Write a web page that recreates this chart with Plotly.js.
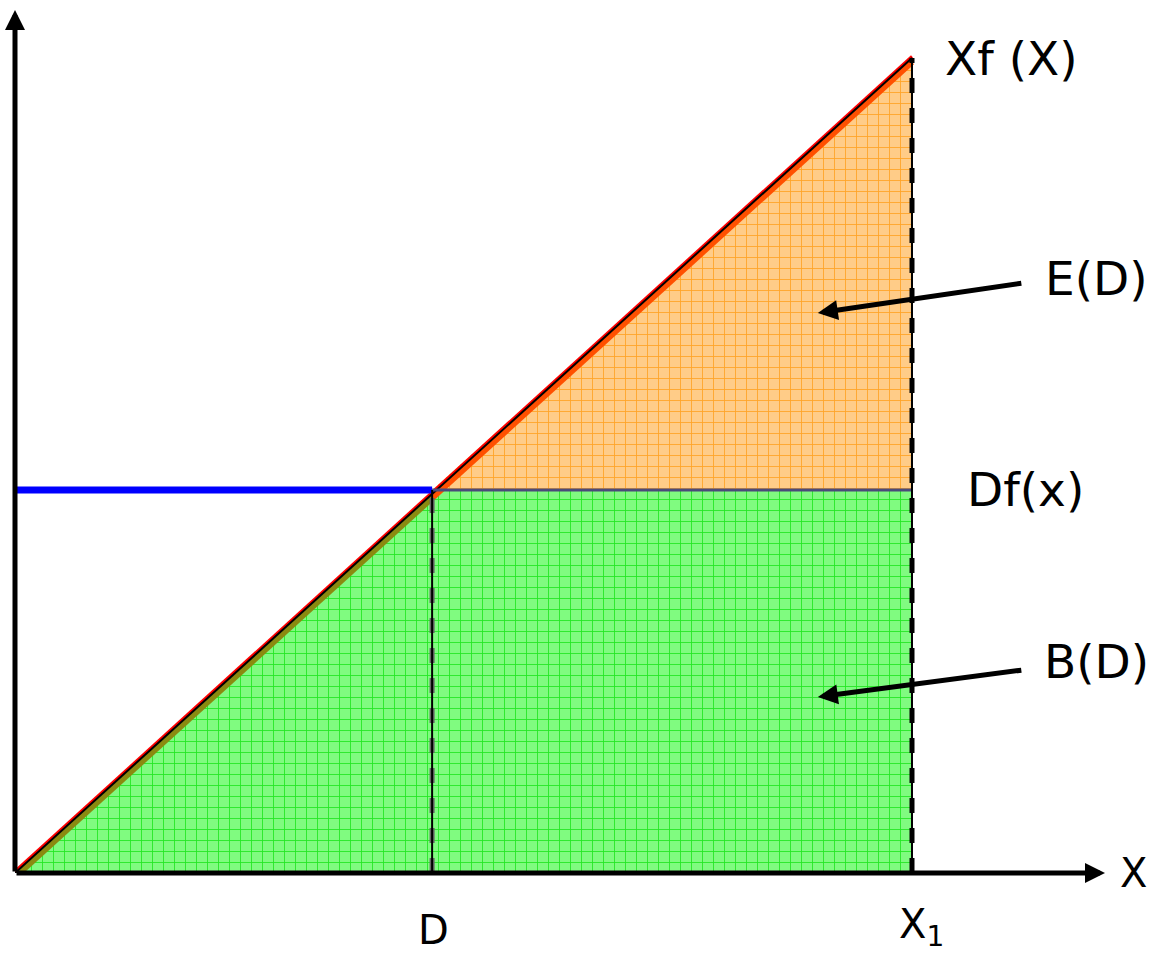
<!DOCTYPE html>
<html>
<head>
<meta charset="utf-8">
<script src="https://cdn.plot.ly/plotly-3.0.1.min.js"></script>
<style>html,body{margin:0;padding:0;background:#fff;}#chart{width:1163px;height:955px;}</style>
</head>
<body>
<div id="chart"></div>
<script>
// Values (arbitrary units)
const X0 = 0;        // origin
const D = 4.65;      // threshold D
const X1 = 10;       // X1
const Df = 4.70;     // level of Df(x)
const XfTop = 10;    // Xf(X) at X1
const diagX = [X0, X1];
const diagY = [X0, XfTop];
const greenX = [X0, D, D, X1, X1, X0];
const greenY = [X0, D, Df, Df, X0, X0];
const orangeX = [D, X1, X1, D];
const orangeY = [Df, XfTop, Df, Df];
const blueX = [X0, D];
const blueY = [Df, Df];
const dfX = [D, X1];
const dfY = [Df, Df];
const vDX = [D, D];
const vDY = [X0, Df];
const vX1X = [X1, X1];
const vX1Y = [X0, XfTop];
const labels = {xf: 'Xf (X)', e: 'E(D)', df: 'Df(x)', b: 'B(D)', d: 'D', x1: 'X<sub>1</sub>', x: 'X'};

const FONT = 'DejaVu Sans, Verdana, sans-serif';
const bandOff = 0.05; // visual offset of the edge band inside the filled areas

const traces = [
  {x: greenX, y: greenY, mode: 'lines', fill: 'toself', line: {width: 0, color: 'rgba(0,0,0,0)'},
   fillcolor: '#80fb80',
   fillpattern: {shape: '+', size: 11, solidity: 0.15, fgcolor: '#22e622', bgcolor: '#80fb80'},
   hoverinfo: 'skip'},
  {x: orangeX, y: orangeY, mode: 'lines', fill: 'toself', line: {width: 0, color: 'rgba(0,0,0,0)'},
   fillcolor: '#ffcc88',
   fillpattern: {shape: '+', size: 11, solidity: 0.15, fgcolor: '#ffa326', bgcolor: '#ffcc88'},
   hoverinfo: 'skip'},
  // colored bands along diagonal (inside the fills)
  {x: [X0, D], y: [X0 - bandOff, D - bandOff], mode: 'lines', line: {color: '#8a8a10', width: 6}, hoverinfo: 'skip'},
  {x: [D, X1], y: [D - bandOff, XfTop - bandOff], mode: 'lines', line: {color: '#ff5000', width: 6}, hoverinfo: 'skip'},
  {x: diagX, y: diagY.map(v => v + 0.02), mode: 'lines', line: {color: '#ff0000', width: 3}, hoverinfo: 'skip'},
  {x: diagX, y: diagY, mode: 'lines', line: {color: '#000000', width: 2}, hoverinfo: 'skip'},
  // Df line
  {x: dfX, y: dfY, mode: 'lines', line: {color: '#4a4a7a', width: 3}, hoverinfo: 'skip'},
  {x: blueX, y: blueY, mode: 'lines', line: {color: '#0000ff', width: 7}, hoverinfo: 'skip'},
  // vertical at D
  {x: vDX, y: vDY, mode: 'lines', line: {color: '#666666', width: 5, dash: 'dash'}, hoverinfo: 'skip'},
  {x: vDX, y: vDY, mode: 'lines', line: {color: '#000000', width: 2}, hoverinfo: 'skip'},
  // vertical at X1
  {x: vX1X, y: vX1Y, mode: 'lines', line: {color: '#000000', width: 5, dash: 'dash'}, hoverinfo: 'skip'},
  {x: vX1X, y: vX1Y, mode: 'lines', line: {color: '#000000', width: 2}, hoverinfo: 'skip'}
];

// plot area: x pixels 15..1105, y pixels 10..873
const pxPerX = 89.7, pxPerY = 81.5;
const xMax = 1090 / pxPerX, yMax = 863 / pxPerY;

const txt = (text, x, y, extra) => Object.assign({text, x, y, xref: 'x', yref: 'y', showarrow: false,
  xanchor: 'center', yanchor: 'middle',
  font: {family: FONT, size: 47, color: '#000'}}, extra || {});
const small = {family: FONT, size: 40, color: '#000'};

const layout = {
  width: 1163, height: 955,
  margin: {l: 15, r: 58, t: 10, b: 82},
  paper_bgcolor: '#fff', plot_bgcolor: '#fff',
  showlegend: false,
  xaxis: {range: [0, xMax], visible: false, fixedrange: true},
  yaxis: {range: [0, yMax], visible: false, fixedrange: true},
  annotations: [
    // axes arrows
    {x: xMax, y: 0, ax: 0, ay: 0, axref: 'x', ayref: 'y', xref: 'x', yref: 'y', showarrow: true,
     arrowhead: 2, arrowwidth: 5, arrowsize: 0.8, arrowcolor: '#000', text: ''},
    {x: 0, y: yMax, ax: 0, ay: 0, axref: 'x', ayref: 'y', xref: 'x', yref: 'y', showarrow: true,
     arrowhead: 2, arrowwidth: 5, arrowsize: 0.8, arrowcolor: '#000', text: ''},
    // pointer arrows
    {x: 8.95, y: 6.87, ax: 205, ay: -30, xref: 'x', yref: 'y', showarrow: true,
     arrowhead: 2, arrowwidth: 5, arrowsize: 0.8, arrowcolor: '#000', text: ''},
    {x: 8.95, y: 2.16, ax: 205, ay: -27, xref: 'x', yref: 'y', showarrow: true,
     arrowhead: 2, arrowwidth: 5, arrowsize: 0.8, arrowcolor: '#000', text: ''},
    txt(labels.xf, 11.11, 10.0),
    txt(labels.e, 12.06, 7.30),
    txt(labels.df, 11.27, 4.70),
    txt(labels.b, 12.06, 2.59),
    {text: labels.d, x: 4.66, y: -0.066, xref: 'x', yref: 'paper', xanchor: 'center', yanchor: 'middle', showarrow: false, font: small},
    {text: labels.x1, x: 10.11, y: -0.062, xref: 'x', yref: 'paper', xanchor: 'center', yanchor: 'middle', showarrow: false, font: small},
    {text: labels.x, x: 1.026, y: 0, xref: 'paper', yref: 'paper', xanchor: 'center', yanchor: 'middle', showarrow: false, font: small}
  ]
};

Plotly.newPlot('chart', traces, layout, {displayModeBar: false, staticPlot: true});
</script>
</body>
</html>
